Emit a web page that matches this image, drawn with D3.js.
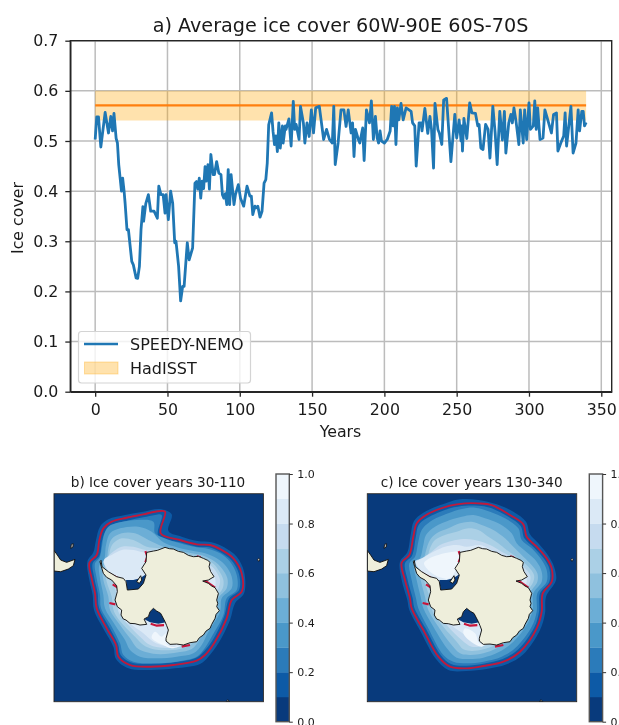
<!DOCTYPE html>
<html><head><meta charset="utf-8">
<script src="https://cdn.jsdelivr.net/npm/d3@7/dist/d3.min.js"></script>
<style>html,body{margin:0;padding:0;background:#fff;overflow:hidden}svg{display:block;filter:blur(.45px)}text{font-family:"DejaVu Sans";fill:#1a1a1a}</style>
</head><body><svg id="c" width="619" height="725"></svg>
<script>
const years=[0,1.1,2.3,3.9,6.9,9.2,10.8,12,13,14.5,15.4,16.3,18.2,19,20,20.7,22,23,25.3,26.4,28.3,29.4,30.6,31.7,33,33.5,35,36.8,38.4,40.7,43,44,45.5,47,48.3,49,50.6,52.2,53.6,55,55.9,57.7,59.1,60.5,61.5,63.7,65,67.4,69,70,71,72,73,74,75,76,76.8,78,79,80,81.6,82.5,84,85.5,87,88,89,90,91,92,93,94,96,97,99,100.5,102.7,105,107,108,109,110.5,111.5,112.5,114,115.4,116.8,118,119,120,122,123,124,125,126,127,128,129.5,130,131.5,132,134,135.5,137,138,139,141,142,144,145,146.5,148,149.5,151,152.5,155,158,160,162,164,165,166,168,170,172,173.5,175,177,178,179,180,182,183,185,186,187.6,189.7,191,192.4,193.8,195,196,197,198,200,202,204,205,206,207,208,209,210,211.5,213,215,218.5,219.5,221,222,224,225.5,226,228,230,231.5,232.6,234,235,237,238,239.7,241,243,246,248.7,250,251.7,253,253.5,254,255,257,259,260.5,263,264.6,265.5,266.7,268.2,270,271.7,273,275,276.6,278,279.8,281.6,283,284,286,287.5,288.5,289.6,291,293,294,296,297,298.4,300,301,303,304,305,306,307.6,309.7,311,313,315.5,317,319,320,322,324,325,326,329,330.5,332.5,334,335,336.5,337.5,338.4,339.5];
const iceCover=[.503,.548,.548,.488,.557,.516,.549,.52,.555,.505,.496,.453,.40,.426,.40,.376,.323,.323,.26,.253,.227,.226,.25,.323,.369,.34,.375,.393,.36,.36,.346,.41,.393,.393,.356,.393,.343,.40,.376,.297,.30,.25,.181,.21,.21,.297,.263,.287,.416,.419,.404,.426,.386,.42,.405,.449,.42,.453,.404,.473,.433,.433,.459,.436,.433,.393,.386,.395,.373,.443,.373,.433,.373,.393,.413,.386,.37,.41,.39,.39,.353,.37,.367,.37,.348,.36,.416,.423,.456,.532,.556,.519,.493,.51,.479,.536,.486,.53,.496,.53,.523,.544,.49,.579,.523,.533,.503,.569,.536,.496,.536,.509,.562,.516,.566,.569,.503,.523,.503,.496,.569,.453,.496,.562,.562,.529,.562,.516,.536,.469,.523,.503,.496,.526,.461,.562,.536,.58,.503,.549,.506,.496,.52,.50,.496,.503,.52,.569,.53,.569,.493,.566,.542,.575,.542,.566,.559,.536,.53,.45,.536,.536,.52,.565,.515,.549,.523,.446,.575,.523,.516,.493,.582,.585,.459,.553,.506,.542,.50,.53,.48,.545,.505,.576,.556,.555,.53,.533,.486,.483,.533,.523,.466,.569,.516,.453,.559,.502,.559,.476,.536,.553,.536,.566,.54,.493,.562,.496,.562,.503,.576,.523,.53,.58,.523,.566,.503,.506,.562,.542,.516,.553,.556,.48,.496,.51,.556,.49,.569,.476,.496,.562,.52,.559,.559,.53,.537];
const hadMean=.571, hadLow=.541, hadHigh=.600, hadYears=[0,339.5];
const xTicks=[0,50,100,150,200,250,300,350], yTicks=[0,.1,.2,.3,.4,.5,.6,.7];
const cbarThresholds=[0,.1,.2,.3,.4,.5,.6,.7,.8,.9,1];
const cbarTicks=[0,.2,.4,.6,.8,1];
const levelColors=["#083a7c","#0d5aa6","#2b7bba","#4a98c9","#6caed6","#8fc1de","#abd0e6","#c6dbef","#dbe9f6","#eff6fc"];

// Map geometry, in the polar-map grid units of each panel
const landMain=[[320,262],[340,258],[352,256],[375,247],[388,251],[400,252],[415,259],[430,262],[445,271],[460,275],[475,274],[490,280],[503,286],[510,292],[507,305],[512,320],[522,335],[505,345],[488,348],[505,355],[515,363],[525,368],[531,378],[535,385],[530,405],[533,415],[530,425],[538,437],[528,448],[525,460],[515,478],[510,490],[498,498],[490,510],[478,518],[470,530],[450,533],[430,540],[410,537],[390,538],[378,528],[378,520],[385,495],[380,482],[375,470],[362,445],[350,438],[340,430],[330,440],[325,455],[312,462],[320,478],[300,480],[285,476],[270,475],[258,465],[250,462],[243,450],[245,435],[232,425],[225,405],[232,380],[230,362],[215,345],[200,337],[190,325],[184,305],[180,290],[183,286],[186,305],[205,320],[230,335],[250,340],[258,350],[262,375],[295,372],[310,355],[318,330],[305,310],[318,290]];
const rossHole=[[340,430],[350,438],[362,445],[378,472],[355,476],[330,472],[312,462],[325,455],[330,440]];
const weddellHole=[[258,345],[262,377],[295,374],[310,357],[318,328],[300,340],[280,345]];
const smallShelf=[[290,350],[302,332],[305,345],[298,355]];
const southAmerica=[[42,256],[52,270],[62,285],[80,292],[105,283],[100,302],[85,312],[62,320],[42,318]];
const islands=[[[92,250],[94,238],[100,236],[99,246]],[[652,284],[656,280],[660,284],[656,289]],[[558,710],[563,704],[569,710]]];
const redCoast=[[[192,318],[215,330],[232,338]],[[218,358],[234,368]],[[208,414],[226,418]],[[478,345],[500,350],[525,368]],[[425,545],[450,540]],[[316,258],[322,275],[316,292]],[[332,476],[350,482],[372,480]],[[470,274],[482,277]]];

const extentB=[[375,140],[345,140],[310,148],[260,158],[215,170],[190,190],[178,225],[170,270],[148,293],[155,340],[165,385],[170,430],[200,490],[228,540],[235,575],[270,600],[330,605],[400,600],[470,587],[495,570],[525,530],[560,460],[575,405],[605,380],[605,325],[580,280],[545,255],[510,240],[470,238],[420,225],[362,205]];
const levelsB=[
 [[395,148],[360,132],[310,140],[255,150],[205,163],[180,185],[168,225],[160,262],[142,290],[148,345],[158,390],[162,435],[192,495],[220,545],[228,582],[265,610],[330,615],[405,610],[480,597],[505,575],[535,535],[570,465],[585,415],[612,385],[612,320],[590,275],[555,248],[515,232],[472,228],[425,215],[385,198]],
 [[365,150],[345,150],[310,157],[262,167],[220,178],[197,197],[186,228],[178,273],[158,295],[163,340],[173,385],[177,428],[207,485],[234,537],[242,570],[272,592],[330,597],[400,592],[465,580],[488,563],[518,525],[552,455],[568,400],[597,375],[597,328],[574,286],[540,261],[507,247],[470,245],[420,232],[355,212]],
 [[340,170],[290,165],[240,172],[205,185],[192,210],[185,250],[178,280],[165,295],[170,340],[180,390],[183,430],[215,485],[240,535],[250,570],[280,590],[340,595],[410,590],[470,575],[490,555],[515,515],[550,450],[560,400],[590,375],[590,330],[570,290],[540,265],[505,252],[470,247],[420,235],[370,218],[345,205]],
 [[335,200],[295,185],[240,190],[210,205],[198,240],[192,285],[178,300],[180,340],[190,390],[195,430],[225,480],[255,525],[270,555],[300,575],[350,580],[410,575],[460,565],[485,540],[505,500],[540,440],[545,400],[575,370],[575,335],[555,300],[530,280],[495,265],[460,258],[415,248],[370,232]],
 [[325,225],[285,205],[245,205],[215,222],[205,250],[200,285],[188,305],[190,345],[205,395],[210,435],[240,480],[270,520],[290,548],[320,562],[360,568],[415,562],[455,552],[478,525],[497,490],[530,440],[535,400],[560,370],[562,340],[545,310],[525,290],[490,272],[455,265],[410,255],[370,245]],
 [[320,245],[280,225],[245,220],[220,235],[210,255],[205,285],[195,305],[200,350],[215,395],[222,440],[250,480],[285,515],[310,540],[340,553],[375,556],[420,552],[450,540],[470,515],[490,485],[525,440],[528,400],[548,370],[550,345],[535,315],[518,295],[480,276],[440,268],[400,255],[360,250]],
 [[318,255],[280,245],[245,245],[222,258],[200,278],[190,290],[205,320],[222,360],[232,400],[235,440],[265,480],[300,515],[330,540],[370,548],[420,545],[445,530],[465,510],[480,485],[515,440],[520,400],[535,370],[540,345],[525,315],[510,300],[470,280],[430,270],[390,255],[350,255]],
 [[312,262],[280,255],[245,255],[215,270],[192,285],[205,318],[235,345],[245,400],[240,440],[270,475],[310,505],[340,530],[375,542],[425,540],[445,525],[470,500],[500,450],[520,410],[525,375],[525,340],[500,300],[450,275],[390,255],[350,260]]
];
const whiteB=[[[345,500],[365,515],[378,505],[378,535],[395,545],[425,541],[395,550],[365,538],[335,518]]];

const extentC=[[425,120],[385,115],[345,115],[300,122],[225,152],[200,175],[190,215],[178,270],[155,293],[165,345],[180,400],[185,430],[220,495],[265,575],[300,605],[350,610],[400,603],[460,590],[510,560],[560,490],[575,440],[578,385],[605,350],[605,310],[590,280],[560,245],[530,215],[520,178],[480,150]];
const levelsC=[
 [[440,118],[385,105],[330,103],[295,112],[220,143],[192,168],[182,210],[172,262],[150,290],[155,345],[172,405],[178,435],[212,500],[258,582],[295,615],[350,618],[410,612],[470,598],[520,568],[570,495],[585,445],[588,395],[618,345],[612,305],[595,272],[565,235],[540,208],[528,170],[490,140]],
 [[420,128],[385,122],[345,122],[300,130],[230,160],[206,180],[197,218],[186,272],[165,295],[173,345],[188,400],[193,428],[227,490],[272,570],[303,597],[350,602],[400,596],[458,582],[505,553],[553,487],[567,440],[570,385],[598,350],[598,312],[583,283],[553,249],[523,220],[512,183],[475,155]],
 [[420,140],[375,128],[335,132],[295,145],[240,170],[215,195],[205,230],[195,275],[178,295],[185,345],[198,400],[205,430],[235,490],[280,570],[310,590],[350,595],[400,590],[455,575],[495,550],[545,485],[560,440],[562,385],[590,350],[590,315],[575,285],[545,250],[515,225],[505,190],[465,160]],
 [[405,160],[370,150],[335,155],[300,165],[255,185],[228,210],[220,240],[210,280],[192,298],[200,345],[212,395],[220,430],[250,485],[295,555],[320,578],[355,582],[400,578],[445,562],[485,535],[530,480],[548,435],[550,385],[575,350],[575,320],[560,290],[530,262],[500,235],[485,205],[445,175]],
 [[395,180],[365,170],[330,175],[295,190],[260,205],[240,225],[230,250],[220,285],[205,303],[212,345],[225,395],[235,435],[265,485],[305,540],[330,565],[360,570],[400,565],[440,550],[475,525],[520,470],[538,430],[540,385],[562,350],[562,325],[545,300],[520,275],[490,245],[465,220],[430,195]],
 [[385,195],[355,190],[320,200],[285,210],[255,225],[240,250],[230,285],[215,305],[222,345],[240,400],[248,440],[280,485],[320,530],[340,553],[365,558],[400,553],[435,540],[470,515],[510,465],[530,425],[530,385],[550,350],[552,330],[535,305],[505,280],[470,255],[445,235],[415,215]],
 [[375,225],[340,222],[305,228],[270,240],[245,260],[215,280],[195,290],[212,320],[240,350],[250,400],[258,440],[290,480],[335,525],[365,545],[400,542],[435,530],[465,505],[505,455],[522,420],[525,385],[540,350],[540,330],[525,310],[490,280],[455,260],[420,240]],
 [[350,245],[320,240],[285,245],[255,258],[220,278],[198,292],[215,318],[240,340],[270,350],[265,400],[265,440],[300,478],[345,510],[385,538],[420,530],[450,510],[490,470],[515,420],[520,385],[530,350],[525,320],[490,290],[440,265],[390,240]]
];
const whiteC=[[[330,262],[300,262],[265,270],[235,282],[222,295],[240,320],[270,337],[300,340],[320,310],[330,280]],[[345,490],[375,505],[388,535],[410,535],[395,545],[365,532],[340,505]]];

const svg=d3.select("#c");
const x=d3.scaleLinear().domain([-17.2,357.2]).range([70.3,611.7]);
const y=d3.scaleLinear().domain([0,.7]).range([391.7,40.7]);
const grid="#bcbcbc", spine="#262626", line="#1f77b4", orange="#ff7f0e", bandFill="#ffa500";

// Panel a
const plot=svg.append("g");
plot.selectAll(".gx").data(xTicks).join("line").attr("x1",d=>x(d)).attr("x2",d=>x(d)).attr("y1",y(0)).attr("y2",y(.7)).attr("stroke",grid).attr("stroke-width",1.5);
plot.selectAll(".gy").data(yTicks).join("line").attr("x1",x.range()[0]).attr("x2",x.range()[1]).attr("y1",d=>y(d)).attr("y2",d=>y(d)).attr("stroke",grid).attr("stroke-width",1.5);
const band=d3.area().x(d=>x(d)).y0(y(hadLow)).y1(y(hadHigh));
plot.append("path").attr("d",band(hadYears)).attr("fill",bandFill).attr("fill-opacity",.32);
plot.append("path").attr("d",d3.line()(hadYears.map(d=>[x(d),y(hadMean)]))).attr("stroke",orange).attr("stroke-width",2.2).attr("fill","none");
plot.append("path").attr("d",d3.line().x((d,i)=>x(years[i])).y(d=>y(d))(iceCover)).attr("stroke",line).attr("stroke-width",2.8).attr("fill","none").attr("stroke-linejoin","round");
plot.append("rect").attr("x",70.3).attr("y",40.7).attr("width",541.4).attr("height",351).attr("fill","none").attr("stroke",spine).attr("stroke-width",1.4);
const ax=svg.append("g").attr("transform",`translate(0,${y(0)})`).call(d3.axisBottom(x).tickValues(xTicks).tickFormat(d3.format("d")).tickSize(5).tickSizeOuter(0));
const ay=svg.append("g").attr("transform",`translate(${x.range()[0]},0)`).call(d3.axisLeft(y).tickValues(yTicks).tickFormat(d3.format(".1f")).tickSize(5).tickPadding(7).tickSizeOuter(0));
[ax,ay].forEach(a=>{a.select(".domain").attr("stroke",spine).attr("stroke-width",1.4);a.selectAll(".tick line").attr("stroke",spine).attr("stroke-width",1.3);a.selectAll("text").attr("font-size",15.8).attr("font-family","DejaVu Sans").attr("fill","#1a1a1a")});
ax.selectAll("text").attr("dy",null).attr("y",23.5);
svg.append("text").attr("x",340.5).attr("y",32).attr("text-anchor","middle").attr("font-size",19.2).text("a) Average ice cover 60W-90E 60S-70S");
svg.append("text").attr("x",340.5).attr("y",437).attr("text-anchor","middle").attr("font-size",15.8).text("Years");
svg.append("text").attr("transform","translate(23,218) rotate(-90)").attr("text-anchor","middle").attr("font-size",15.8).text("Ice cover");
// legend
const lg=svg.append("g");
lg.append("rect").attr("x",78.5).attr("y",331.5).attr("width",172).attr("height",51.5).attr("rx",3).attr("fill","#fff").attr("fill-opacity",.8).attr("stroke","#d4d4d4").attr("stroke-width",1.2);
lg.append("line").attr("x1",84).attr("x2",118).attr("y1",344).attr("y2",344).attr("stroke",line).attr("stroke-width",2.6);
lg.append("rect").attr("x",84.5).attr("y",362).attr("width",33.5).attr("height",12).attr("fill",bandFill).attr("fill-opacity",.32).attr("stroke",bandFill).attr("stroke-opacity",.32);
lg.append("text").attr("x",130).attr("y",349.5).attr("font-size",16).text("SPEEDY-NEMO");
lg.append("text").attr("x",130).attr("y",373.5).attr("font-size",16).text("HadISST");

// Map panels
function panel(id,title,titleX,boxX,gridStart,landStart,levels,extent,whites,cbX){
  const sy=d3.scaleLinear().domain([86,710]).range([493.7,701.7]);
  const sx=d3.scaleLinear().domain([gridStart,gridStart+628]).range([boxX,boxX+209.4]);
  const lx=d3.scaleLinear().domain([landStart,landStart+628]).range([boxX,boxX+209.4]);
  const smooth=d3.line().x(d=>sx(d[0])).y(d=>sy(d[1])).curve(d3.curveCatmullRomClosed.alpha(.5));
  const jag=d3.line().x(d=>lx(d[0])).y(d=>sy(d[1])).curve(d3.curveLinearClosed);
  const open=d3.line().x(d=>lx(d[0])).y(d=>sy(d[1]));
  svg.append("clipPath").attr("id",id).append("rect").attr("x",boxX).attr("y",493.7).attr("width",209.4).attr("height",208);
  const g=svg.append("g").attr("clip-path",`url(#${id})`);
  g.append("rect").attr("x",boxX).attr("y",493.7).attr("width",209.4).attr("height",208).attr("fill",levelColors[0]);
  levels.forEach((p,i)=>g.append("path").attr("d",smooth(p)).attr("fill",levelColors[i+1]));
  whites.forEach(p=>g.append("path").attr("d",smooth(p)).attr("fill",levelColors[9]));
  g.append("path").attr("d",smooth(extent)).attr("fill","none").attr("stroke","#bf1a3c").attr("stroke-width",1.9);
  [rossHole,weddellHole].forEach(p=>g.append("path").attr("d",jag(p)).attr("fill",levelColors[0]));
  redCoast.forEach(p=>g.append("path").attr("d",open(p)).attr("fill","none").attr("stroke","#c8153a").attr("stroke-width",2.2));
  [landMain,smallShelf,southAmerica].forEach(p=>g.append("path").attr("d",jag(p)).attr("fill","#eeeedb").attr("stroke","#111").attr("stroke-width",.95).attr("stroke-linejoin","round"));
  islands.forEach(p=>g.append("path").attr("d",jag(p)).attr("fill","#bbb").attr("stroke","#111").attr("stroke-width",.8));
  svg.append("rect").attr("x",boxX).attr("y",493.7).attr("width",209.4).attr("height",208).attr("fill","none").attr("stroke","#222").attr("stroke-width",.9);
  svg.append("text").attr("x",titleX).attr("y",487).attr("text-anchor","middle").attr("font-size",13.6).text(title);
  const cy=d3.scaleLinear().domain([0,1]).range([721.7,474]);
  const cw=13.3;
  svg.selectAll(null).data(d3.pairs(cbarThresholds)).join("rect").attr("x",cbX).attr("width",cw).attr("y",d=>cy(d[1])).attr("height",d=>cy(d[0])-cy(d[1])+.3).attr("fill",(d,i)=>levelColors[i]);
  svg.append("rect").attr("x",cbX).attr("y",474).attr("width",cw).attr("height",247.7).attr("fill","none").attr("stroke","#555").attr("stroke-width",1.4);
  const cax=svg.append("g").attr("transform",`translate(${cbX+cw},0)`).call(d3.axisRight(cy).tickValues(cbarTicks).tickFormat(d3.format(".1f")).tickSize(3.5).tickSizeOuter(0));
  cax.select(".domain").remove();
  cax.selectAll(".tick line").attr("stroke","#333");
  cax.selectAll("text").attr("font-size",11).attr("font-family","DejaVu Sans").attr("fill","#1a1a1a").attr("x",8);
}
panel("mb","b) Ice cover years 30-110",158,54,42,42,levelsB,extentB,whiteB,276);
panel("mc","c) Ice cover years 130-340",471.7,367.3,52,42,levelsC,extentC,whiteC,589.3);
</script></body></html>
